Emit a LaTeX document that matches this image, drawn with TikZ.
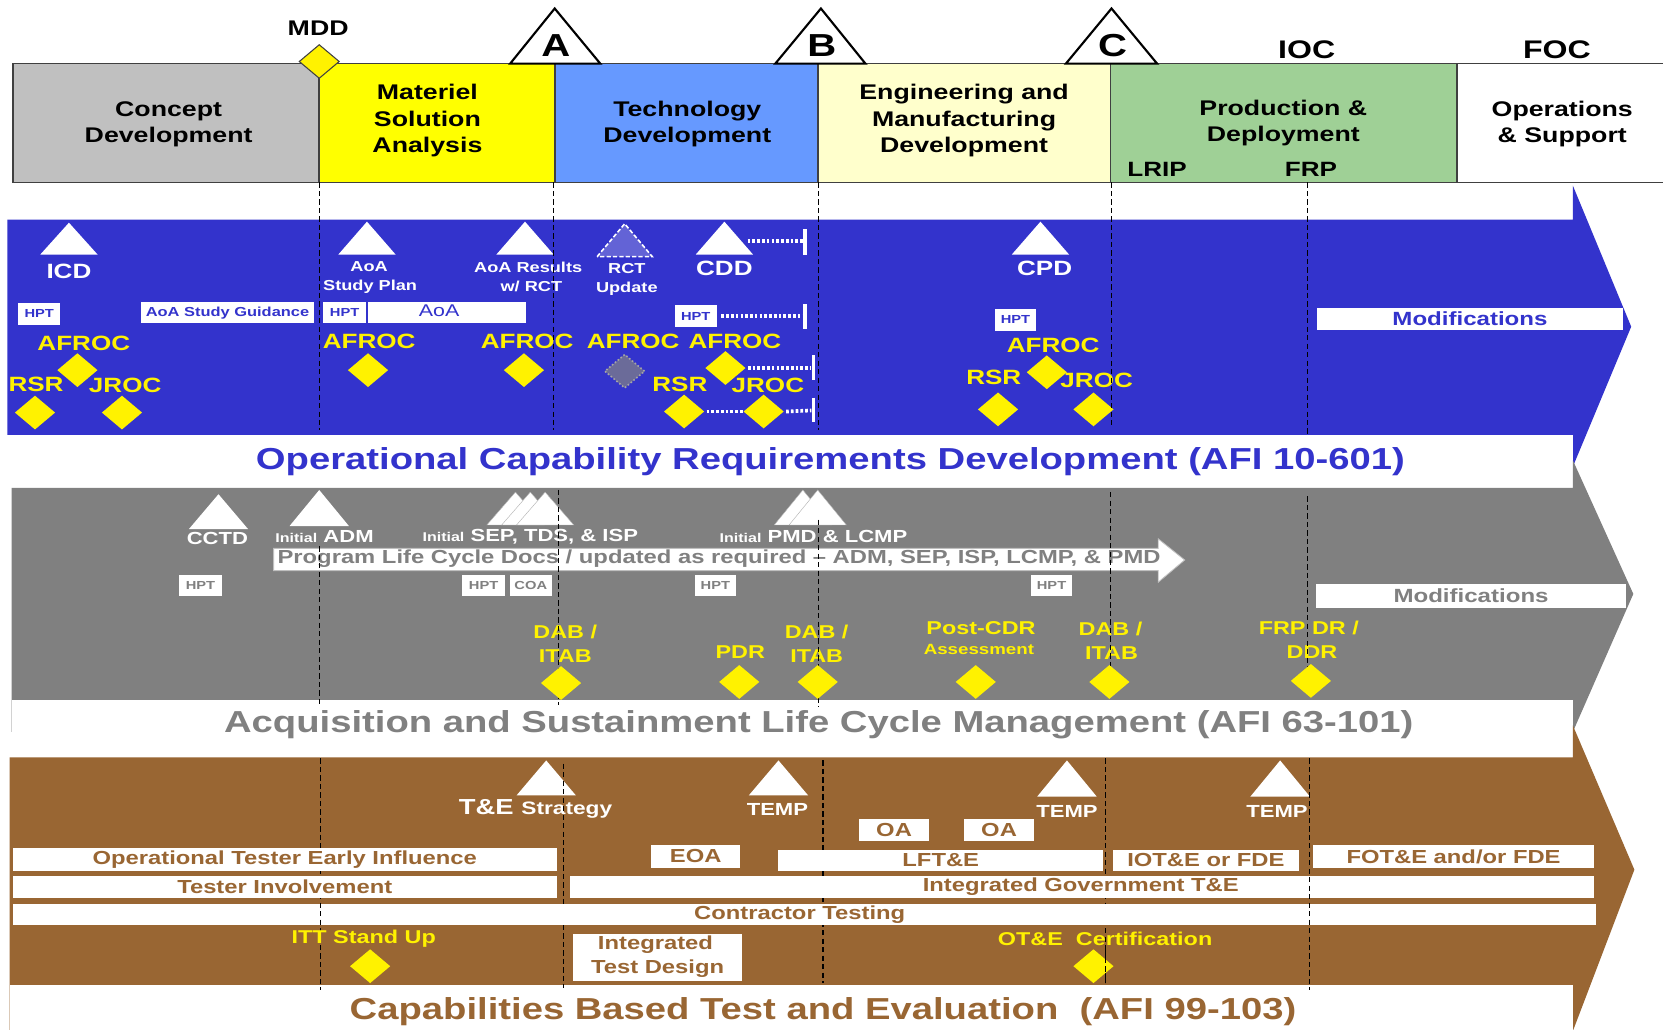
\documentclass[tikz,border=0pt]{standalone}
\usepackage{fontspec}
\setmainfont{Liberation Sans}[FakeStretch=1.26]
\usetikzlibrary{shapes.geometric}
\definecolor{bandblue}{HTML}{3333CC}
\definecolor{bandgray}{HTML}{808080}
\definecolor{bandbrown}{HTML}{996633}
\definecolor{phgray}{HTML}{C0C0C0}
\definecolor{phyel}{HTML}{FFFF00}
\definecolor{phblue}{HTML}{6699FF}
\definecolor{phlight}{HTML}{FFFFCC}
\definecolor{phgreen}{HTML}{9FD096}
\definecolor{rctblue}{HTML}{6363D6}
\definecolor{dimdia}{HTML}{6B6B99}
\newcommand\fs[1]{\fontsize{#1}{#1}\selectfont}
\newcommand\mtri[5][]{\fill[white,#1] (#2-#4,#3+#5) -- (#2,#3) -- (#2+#4,#3+#5) -- cycle;}
\tikzset{
 edge/.style={draw=black!75, line width=1.6pt},
 dsh/.style={draw=black, line width=1pt, dash pattern=on 5pt off 3pt},
 yl/.style={text=yellow, font=\bfseries\fs{#1}}, yl/.default=19.5,
 wt/.style={text=white, font=\bfseries\fs{#1}}, wt/.default=19.5,
 bk/.style={text=black, font=\bfseries\fs{#1}}, bk/.default=19.5,
 ph/.style={align=center, text=black, font=\bfseries\fontsize{20}{25}\selectfont},
 bx/.style 2 args={fill=white, minimum width=#1, minimum height=#2},
 yd/.style={diamond, fill=yellow, minimum width=38, minimum height=32},
 dots/.style={draw=white, line width=3.5pt, dash pattern=on 2.5pt off 2pt},
 wbar/.style={draw=white, line width=3pt},
 btx/.style={text=bandbrown, font=\bfseries\fs{17.8}},
}
\begin{document}
\begin{tikzpicture}[x=1pt,y=-1pt, every node/.style={inner sep=0pt, font=\bfseries}]
\useasboundingbox (0,0) rectangle (1568,971);
\fill[white] (0,0) rectangle (1568,971);

% ---------- phase bar ----------
\fill[phgray] (12,60) rectangle (301,172);
\fill[phyel] (301,60) rectangle (523,172);
\fill[phblue] (523,60) rectangle (771,172);
\fill[phlight] (771,60) rectangle (1047,172);
\fill[phgreen] (1047,60) rectangle (1374,172);
\draw[edge] (1568,60) -- (12,60) -- (12,172) -- (1568,172);
\foreach \x in {301,523,771,1047,1374} \draw[edge] (\x,60) -- (\x,172);

\node[ph] (cd) at (159,117) {Concept\\Development};
\node[ph] (msa) at (403,114) {Materiel\\Solution\\Analysis};
\node[ph] (td) at (648,117) {Technology\\Development};
\node[ph] (emd) at (909,114) {Engineering and\\Manufacturing\\Development};
\node[ph] (pd) at (1210,116) {Production \&\\Deployment};
\node[ph] (os) at (1473,117) {Operations\\\& Support};

\node[diamond, fill=yellow, draw=black!75, line width=1pt, minimum width=38, minimum height=32] (mdd) at (301,58) {};
\node[bk=20] (mddt) at (300,27) {MDD};
\draw[fill=white, line width=2pt] (481,60) -- (523,8) -- (566,60) -- cycle;
\node[bk=30] (ma) at (524,43) {A};
\draw[fill=white, line width=2pt] (731,60) -- (774,8) -- (816,60) -- cycle;
\node[bk=30] (mb) at (775,43) {B};
\draw[fill=white, line width=2pt] (1005,60) -- (1048,8) -- (1091,60) -- cycle;
\node[bk=30] (mc) at (1049,43) {C};
\node[bk=24] (ioc) at (1232,47) {IOC};
\node[bk=24] (foc) at (1468,47) {FOC};
\node[bk=19.5] (lrip) at (1091,160) {LRIP};
\node[bk=19.5] (frp) at (1236,160) {FRP};

% ---------- bands ----------
\fill[bandblue] (7,207) -- (1483,207) -- (1483,175) -- (1538,308) -- (1483,440) -- (7,440) -- cycle;
\fill[white] (7,410) rectangle (1483,460);
\fill[bandgray] (11,460) -- (1483,460) -- (1483,434) -- (1540,560) -- (1483,690) -- (11,690) -- cycle;
\fill[white] (11,660) rectangle (1483,712);
\fill[bandbrown] (9,714) -- (1483,714) -- (1483,684) -- (1541,820) -- (1480,980) -- (9,980) -- cycle;
\fill[white] (9,929) rectangle (1483,980);

\node[text=bandblue, font=\bfseries\fs{28.6}] (t1) at (783,435) {Operational Capability Requirements Development (AFI 10-601)};
\node[text=bandgray, font=\bfseries\fs{28.6}] (t2) at (772,683) {Acquisition and Sustainment Life Cycle Management (AFI 63-101)};
\node[text=bandbrown, font=\bfseries\fs{28.6}] (t3) at (776,954) {Capabilities Based Test and Evaluation\ \ (AFI 99-103)};

% ---------- blue band ----------
\mtri{65}{210}{27}{30}
\mtri{346}{209}{27}{31}
\mtri{495}{209}{27}{31}
\filldraw[fill=rctblue, draw=white, line width=1.5pt, dash pattern=on 4pt off 2pt] (563,242) -- (589,211) -- (615,242) -- cycle;
\mtri{683}{209}{27}{31}
\mtri{981}{209}{27}{31}

\node[wt] (icd) at (65,256) {ICD};
\node[wt=13.6] (aoa1) at (348,251) {AoA};
\node[wt=13.6] (aoa2) at (349,270) {Study Plan};
\node[wt=13.6] (aor1) at (498,252) {AoA Results};
\node[wt=13.6] (aor2) at (501,270) {w/ RCT};
\node[wt=13.6] (rct1) at (591,253) {RCT};
\node[wt=13.6] (rct2) at (591,272) {Update};
\node[wt] (cdd) at (683,253) {CDD};
\node[wt] (cpd) at (985,253) {CPD};

\node[bx={40}{20}, text=bandblue, font=\bfseries\fs{11}] (h1) at (37,296) {HPT};
\node[bx={163}{20}, text=bandblue, font=\bfseries\fs{12.3}] (asg) at (214.5,295) {AoA Study Guidance};
\node[bx={40}{20}, text=bandblue, font=\bfseries\fs{11}] (h2) at (325,295) {HPT};
\node[bx={149}{20}] (aoab) at (421.5,295) {};
\node[text=bandblue, font=\fs{16}] (aoat) at (414,293) {AoA};
\node[bx={40}{20}, text=bandblue, font=\bfseries\fs{11}] (h3) at (656,298) {HPT};
\node[bx={39}{21}, text=bandblue, font=\bfseries\fs{11}] (h4) at (957.5,301.5) {HPT};
\node[bx={288}{21}, text=bandblue, font=\bfseries\fs{18}] (mod1) at (1386,300.5) {Modifications};

\coordinate (e1) at (757,227); \coordinate (e2) at (757,298);
\coordinate (e3) at (765,347); \coordinate (e4) at (765,387);
\coordinate (s1) at (705,227);
\draw[dots] (s1) -- (e1);
\draw[wbar] (759,216) -- (759,240);
\draw[dots] (h3.east) ++(4,0) -- (e2);
\draw[wbar] (759,287) -- (759,310);

\node[yl] (af1) at (79,324) {AFROC};
\node[yl] (af2) at (348,322) {AFROC};
\node[yl] (af3) at (497,322) {AFROC};
\node[yl] (af4) at (597,322) {AFROC};
\node[yl] (af5) at (693,322) {AFROC};
\node[yl] (af6) at (993,326) {AFROC};
\node[yl] (rs1) at (34,362) {RSR};
\node[yl] (jr1) at (118,363) {JROC};
\node[yl] (rs2) at (641,362) {RSR};
\node[yl] (jr2) at (724,363) {JROC};
\node[yl] (rs3) at (937,356) {RSR};
\node[yl] (jr3) at (1034,359) {JROC};

\node[yd] (d1) at (73,349) {};
\node[yd] (d2) at (347,349) {};
\node[yd] (d3) at (494,349) {};
\node[diamond, fill=dimdia, draw=gray!70, line width=1.5pt, dotted, minimum width=38, minimum height=32] (d4) at (589,350) {};
\node[yd] (d5) at (684,347) {};
\node[yd] (d6) at (987,351) {};
\node[yd] (r1) at (33,389) {};
\node[yd] (j1) at (115,389) {};
\node[yd] (r2) at (645,388) {};
\node[yd] (j2) at (720,388) {};
\node[yd] (r3) at (941,386) {};
\node[yd] (j3) at (1031,386) {};

\draw[dots] (d5.east) ++(2,0) -- (e3);
\draw[wbar] (767,335) -- (767,358);
\draw[dots] (r2.east) ++(2,0) -- (j2.west);
\draw[dots] (j2.east) ++(2,0) -- (e4);
\draw[wbar] (767,375) -- (767,398);

% ---------- gray band ----------
\mtri{206}{466}{28}{33}
\mtri{301}{462}{28}{34}
\mtri[draw=bandgray!60]{486}{464}{27}{31}
\mtri[draw=bandgray!60]{500}{464}{27}{31}
\mtri[draw=bandgray!60]{514}{464}{27}{31}
\mtri[draw=bandgray!60]{757}{462}{27}{33}
\mtri[draw=bandgray!60]{771}{462}{27}{33}

\node[wt=16.5] (cctd) at (205,508) {CCTD};
\node[wt=16.5] (iadm) at (306,506) {{\fs{12}Initial} ADM};
\node[wt=16.5] (isep) at (500,506) {{\fs{12}Initial} SEP, TDS, \& ISP};
\node[wt=16.5] (ipmd) at (767,506) {{\fs{12}Initial} PMD \& LCMP};

\filldraw[fill=white, draw=black!25, line width=0.8pt] (258,517) -- (1092,517) -- (1092,508) -- (1117,528) -- (1092,549) -- (1092,538) -- (258,538) -- cycle;
\node[text=bandgray, font=\bfseries\fs{17.8}] (plc) at (678,527) {Program Life Cycle Docs / updated as required – ADM, SEP, ISP, LCMP, \& PMD};

\node[bx={40}{20}, text=bandgray, font=\bfseries\fs{11}] (g1) at (189,552) {HPT};
\node[bx={40}{20}, text=bandgray, font=\bfseries\fs{11}] (g2) at (456,552) {HPT};
\node[bx={39}{20}, text=bandgray, font=\bfseries\fs{11}] (g3) at (500.5,552) {COA};
\node[bx={39}{20}, text=bandgray, font=\bfseries\fs{11}] (g4) at (674.5,552) {HPT};
\node[bx={39}{20}, text=bandgray, font=\bfseries\fs{11}] (g5) at (991.5,552) {HPT};
\node[bx={292}{22}, text=bandgray, font=\bfseries\fs{18}] (mod2) at (1387,562) {Modifications};

\node[yl=17.5] (y1a) at (533,596) {DAB /};
\node[yl=17.5] (y1b) at (533,619) {ITAB};
\node[yl=17.5] (y2) at (698,615) {PDR};
\node[yl=17.5] (y3a) at (770,596) {DAB /};
\node[yl=17.5] (y3b) at (770,619) {ITAB};
\node[yl=17.5] (y4a) at (925,592) {Post-CDR};
\node[yl=14] (y4b) at (923,612) {Assessment};
\node[yl=17.5] (y5a) at (1047,593) {DAB /};
\node[yl=17.5] (y5b) at (1048,616) {ITAB};
\node[yl=17.5] (y6a) at (1234,592) {FRP DR /};
\node[yl=17.5] (y6b) at (1237,615) {DDR};

% ---------- brown band ----------
\mtri{515}{717}{28}{33}
\mtri{734}{717}{28}{33}
\mtri{1006}{717}{28}{34}
\mtri{1207}{717}{28}{34}
\node[wt=20.5] (tes) at (505,763) {T\&E {\fs{17}Strategy}};
\node[wt=16.5] (tp1) at (733,763) {TEMP};
\node[wt=16.5] (tp2) at (1006,765) {TEMP};
\node[wt=16.5] (tp3) at (1204,765) {TEMP};

% lines hidden behind the test boxes
\foreach \x/\a/\b in {531/720/932, 776/717/927, 1042/715/927}
  \draw[dsh] (\x,\a) -- (\x,\b);

\node[bx={66}{21}, btx] (oa1) at (843,782.5) {OA};
\node[bx={66}{21}, btx] (oa2) at (942,782.5) {OA};
\node[bx={84}{21}, btx] (eoa) at (656,807.5) {EOA};
\node[bx={306}{20}, btx] (lft) at (887,811) {LFT\&E};
\node[bx={176}{20}, btx] (iot) at (1137,811) {IOT\&E or FDE};
\node[bx={265}{21}, btx] (fot) at (1370.5,807.5) {FOT\&E and/or FDE};
\node[bx={966}{21}] (igt) at (1020,836.5) {};
\node[btx] (igtt) at (1019,836) {Integrated Government T\&E};
\node[bx={1493}{20}] (ct) at (758.5,862) {};
\node[btx] (ctt) at (754,862) {Contractor Testing};
\node[bx={160}{44}] (itd) at (620,903) {};
\node[btx] (itd1) at (618,891) {Integrated};
\node[btx] (itd2) at (620,913) {Test Design};

% ---------- dashed milestone lines ----------
\foreach \x/\a/\b in {301/172/405, 522/172/405, 772/172/405, 1048/172/402, 1233/172/410,
  301/515/665, 527/462/665, 772/490/667, 1047/464/640, 1233/468/640,
  302/715/933, 1235/715/933}
  \draw[dsh] (\x,\a) -- (\x,\b);

\node[bx={513}{21}, btx] (otei) at (268.5,810.5) {Operational Tester Early Influence};
\node[bx={513}{21}, btx] (ti) at (268.5,836.5) {Tester Involvement};

\node[yl=17.5] (itt) at (343,885) {ITT Stand Up};
\node[yd] (ditt) at (349,911) {};
\node[yl=17.5] (otc) at (1042,885) {OT\&E\ \ Certification};
\node[yd] (dotc) at (1031,911) {};
\draw[dsh] (1042,895) -- (1042,927);

% gray band diamonds on top of lines
\node[yd] (gd1) at (529,644) {};
\node[yd] (gd2) at (697,643) {};
\node[yd] (gd3) at (771,643) {};
\node[yd] (gd4) at (920,643) {};
\node[yd] (gd5) at (1046,643) {};
\node[yd] (gd6) at (1236,642) {};
\end{tikzpicture}
\end{document}
